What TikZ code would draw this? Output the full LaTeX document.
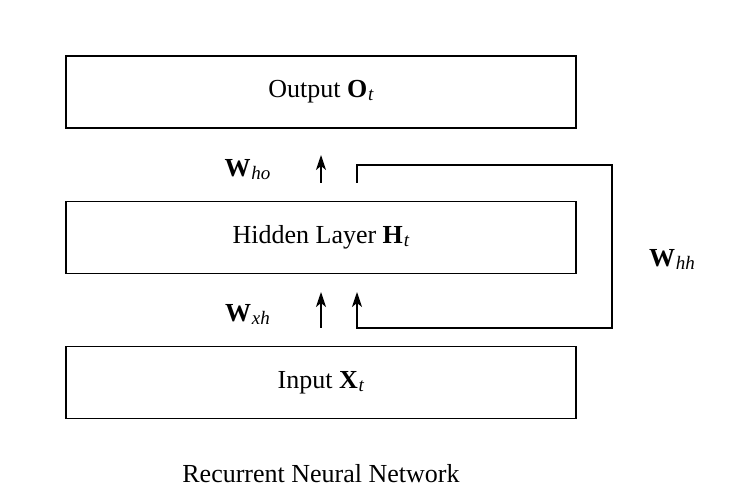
\documentclass[tikz,border=0pt]{standalone}
\usepackage{fontspec}
\setmainfont{Liberation Serif}
\usetikzlibrary{arrows.meta,calc}
\newcommand{\mysub}[1]{\kern0.8pt\raisebox{-3pt}{\fontsize{19}{21}\selectfont\textit{#1}}}
\begin{document}
\begin{tikzpicture}[x=1pt,y=1pt,
  layerbox/.style={draw,line width=1.5pt,minimum width=510pt,minimum height=72pt,inner sep=0pt},
  conn/.style={line width=1.6pt,-{Stealth[length=15pt,width=10pt,inset=4pt]}},
  lbl/.style={anchor=base,inner sep=0pt},
  font=\fontsize{26}{31}\selectfont]
\useasboundingbox (0,0) rectangle (732,501);
\node[layerbox] (out) at (321,409) {Output \textbf{O}\mysub{t}};
\node[layerbox] (hid) at (321,263.5) {Hidden Layer \textbf{H}\mysub{t}};
\node[layerbox] (inp) at (321,118.5) {Input \textbf{X}\mysub{t}};
% upper arrow
\coordinate (ua1) at (321,318);
\coordinate (ua2) at (321,346);
\draw[conn] (ua1) -- (ua2);
% lower arrow
\coordinate (la1) at (321,173);
\coordinate (la2) at (321,209);
\draw[conn] (la1) -- (la2);
% recurrent loop
\coordinate (r0) at (357,318);
\coordinate (r1) at (357,336);
\coordinate (r2) at (612,336);
\coordinate (r3) at (612,173);
\coordinate (r4) at (357,173);
\coordinate (r5) at (357,209);
\draw[conn,line join=miter] (r0) -- (r1) -- (r2) -- (r3) -- (r4) -- (r5);
% labels
\node[lbl] (who) at (247.5,324) {\textbf{W}\mysub{ho}};
\node[lbl] (wxh) at (247.5,179) {\textbf{W}\mysub{xh}};
\node[lbl] (whh) at (672,234) {\textbf{W}\mysub{hh}};
\node[lbl] (cap) at (321,18) {Recurrent Neural Network};
\end{tikzpicture}
\end{document}
